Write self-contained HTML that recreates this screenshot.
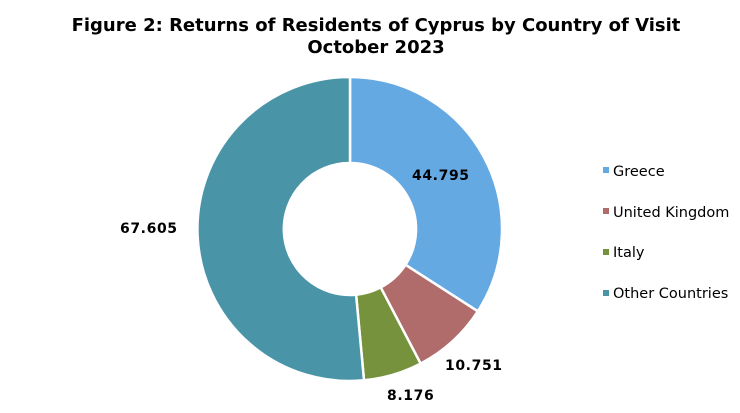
<!DOCTYPE html>
<html><head><meta charset="utf-8"><style>
html,body{margin:0;padding:0;background:#fff;}
svg{display:block;}
text{font-family:"DejaVu Sans","Liberation Sans",sans-serif;}
</style></head><body>
<svg width="740" height="413" viewBox="0 0 740 413" xmlns="http://www.w3.org/2000/svg">
<text x="376" y="31" text-anchor="middle" font-size="18" font-weight="bold" fill="#000">Figure 2: Returns of Residents of Cyprus by Country of Visit</text>
<text x="376" y="53" text-anchor="middle" font-size="18" font-weight="bold" fill="#000">October 2023</text>
<g stroke="#fff" stroke-width="2.5" stroke-linejoin="round">
<path d="M350,77 A152,152 0 0 1 477.8,311.3 L405.5,264.8 A66,66 0 0 0 350,163 Z" fill="#65A9E3"/>
<path d="M477.8,311.3 A152,152 0 0 1 420.6,363.6 L380.7,287.4 A66,66 0 0 0 405.5,264.8 Z" fill="#B06B6B"/>
<path d="M420.6,363.6 A152,152 0 0 1 364.0,380.3 L356.1,294.7 A66,66 0 0 0 380.7,287.4 Z" fill="#76923C"/>
<path d="M364.0,380.3 A152,152 0 1 1 350,77 L350,163 A66,66 0 1 0 356.1,294.7 Z" fill="#4A94A8"/>
</g>
<g font-size="14" font-weight="bold" fill="#000" letter-spacing="0.6">
<text x="412" y="180">44.795</text>
<text x="445" y="370">10.751</text>
<text x="387" y="400">8.176</text>
<text x="120" y="233">67.605</text>
</g>
<g font-size="14.5" fill="#000">
<rect x="603" y="167" width="6" height="6" fill="#65A9E3"/><text x="613" y="176">Greece</text>
<rect x="603" y="208" width="6" height="6" fill="#B06B6B"/><text x="613" y="217">United Kingdom</text>
<rect x="603" y="249" width="6" height="6" fill="#76923C"/><text x="613" y="257">Italy</text>
<rect x="603" y="290" width="6" height="6" fill="#4A94A8"/><text x="613" y="298">Other Countries</text>
</g>
</svg>
</body></html>
